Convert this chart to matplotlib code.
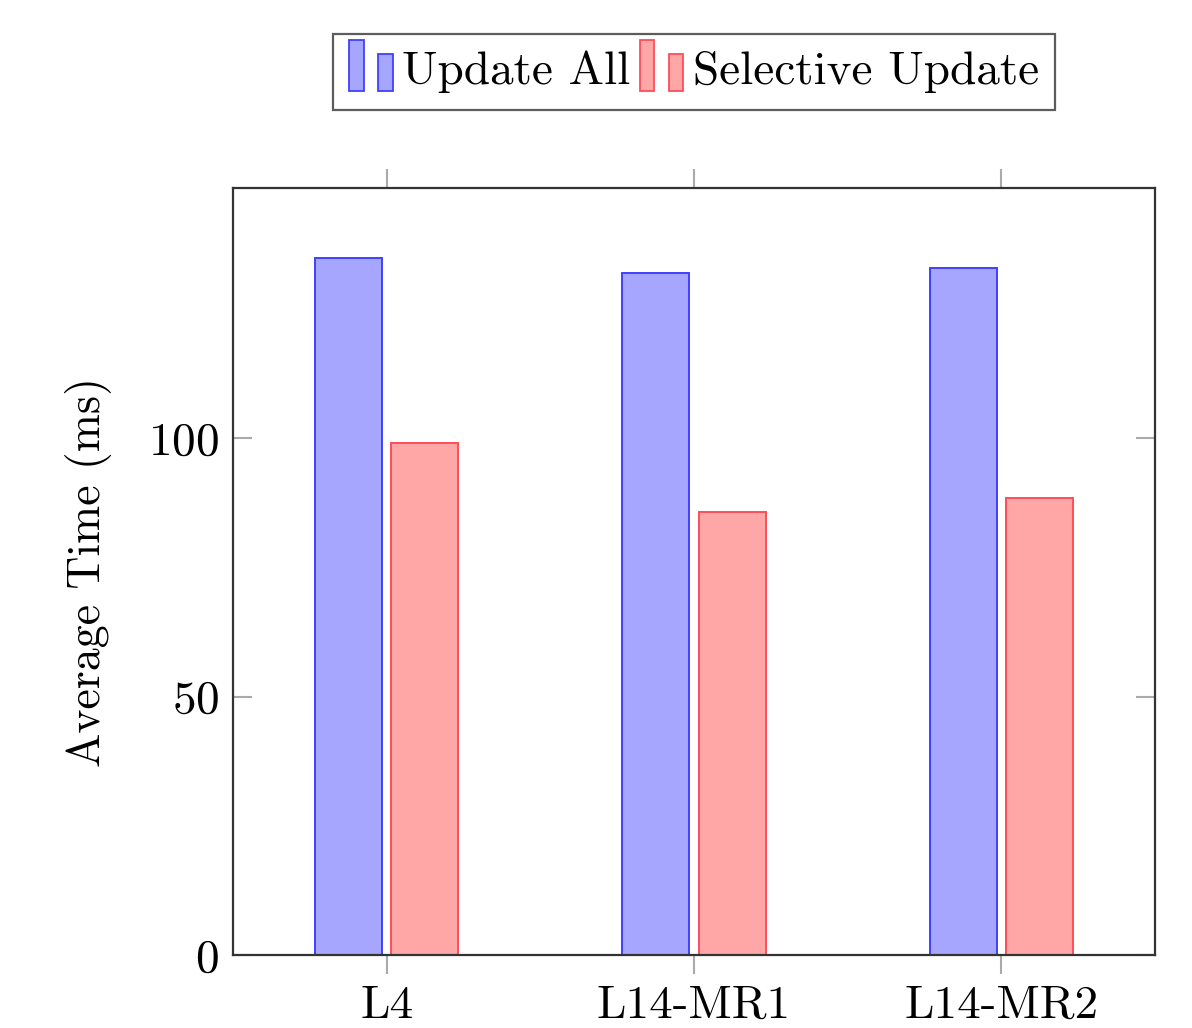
import matplotlib
matplotlib.use("Agg")
import matplotlib.pyplot as plt
import numpy as np
from matplotlib.patches import Rectangle
from matplotlib.legend_handler import HandlerBase

plt.rcParams['font.family'] = ['cmr10', 'DejaVu Serif']
plt.rcParams['axes.formatter.use_mathtext'] = True
plt.rcParams['mathtext.fontset'] = 'cm'

# data
configs = ["L4", "L14-MR1", "L14-MR2"]
update_all = [134.8, 131.9, 132.9]
selective = [99.0, 85.7, 88.4]


class TwoBarHandler(HandlerBase):
    # pgfplots-style ybar legend image: two small bars
    def create_artists(self, legend, orig_handle, xdescent, ydescent,
                       width, height, fontsize, trans):
        fc = orig_handle.get_facecolor()
        ec = orig_handle.get_edgecolor()
        bw = width * 0.33
        y0 = -ydescent - height * 0.2
        r1 = Rectangle((-xdescent, y0), bw, height * 1.55,
                       facecolor=fc, edgecolor=ec, lw=1.3, transform=trans)
        r2 = Rectangle((-xdescent + width * 0.67, y0), bw, height * 1.12,
                       facecolor=fc, edgecolor=ec, lw=1.3, transform=trans)
        return [r1, r2]


fig = plt.figure(figsize=(11.92, 10.28), dpi=100)
ax = fig.add_axes([0.1955, 0.0710, 0.7735, 0.7461])

x = np.arange(len(configs))
w = 0.218
b1 = ax.bar(x - 0.124, update_all, w, color=(0.65, 0.65, 1.0),
            edgecolor=(0.25, 0.25, 1.0), linewidth=1.4, label="Update All")
b2 = ax.bar(x + 0.124, selective, w, color=(1.0, 0.65, 0.65),
            edgecolor=(1.0, 0.3, 0.35), linewidth=1.4, label="Selective Update")

ax.set_xlim(-0.5, 2.5)
ax.set_ylim(0, 148.4)
ax.set_xticks(x)
ax.set_xticklabels(configs)
ax.set_yticks([0, 50, 100])
ax.set_ylabel("Average Time (ms)", fontsize=33, labelpad=26)

ax.tick_params(axis='x', direction='out', length=14, width=1.5,
               color='#aaaaaa', top=True, labelsize=34, pad=8)
ax.tick_params(axis='y', direction='in', length=14, width=1.5,
               color='#aaaaaa', right=True, labelsize=34, pad=10)
for s in ax.spines.values():
    s.set_linewidth(1.6)
    s.set_color('#333333')

leg = ax.legend(handles=[b1[0], b2[0]], labels=["Update All", "Selective Update"],
                handler_map={type(b1[0]): TwoBarHandler()},
                loc='lower center', bbox_to_anchor=(0.5, 1.1017), ncol=2,
                fontsize=34, frameon=True, fancybox=False, edgecolor='#333333',
                handlelength=0.92, handletextpad=0.2, columnspacing=0.2,
                borderpad=0.35, borderaxespad=0)
leg.get_frame().set_linewidth(1.6)

fig.savefig("out.png", dpi=100)
